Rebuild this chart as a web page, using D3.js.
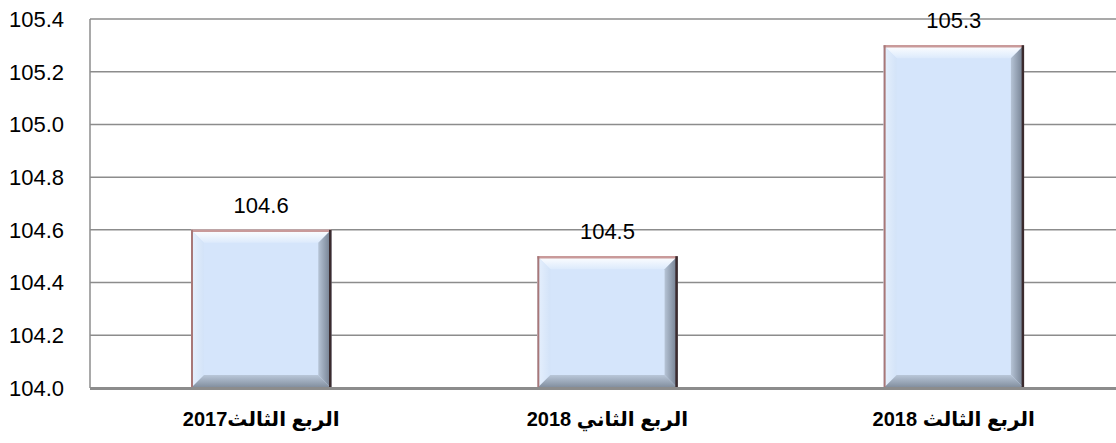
<!DOCTYPE html>
<html>
<head>
<meta charset="utf-8">
<script src="https://cdn.jsdelivr.net/npm/d3@7"></script>
<style>
  body { margin: 0; background: #fff; }
  svg { display: block; font-family: "Liberation Sans", Arial, "DejaVu Sans", sans-serif; }
</style>
</head>
<body>
<div id="barchart"></div>
<script>
const categories = ["الربع الثالث2017", "الربع الثاني 2018", "الربع الثالث 2018"];
const values = [104.6, 104.5, 105.3];
const yTicks = [104.0, 104.2, 104.4, 104.6, 104.8, 105.0, 105.2, 105.4];

const width = 1116, height = 443;
const margin = { top: 19, left: 90, bottom: 55 };

let svg = d3.select("#barchart")
    .append("svg")
    .attr("width", width)
    .attr("height", height);

// band range runs past the right edge like the original
let x = d3.scaleBand()
    .domain(categories)
    .range([margin.left - 2, margin.left - 2 + 3 * 346.3])
    .paddingInner(0.595)
    .paddingOuter(0.2975);

let y = d3.scaleLinear()
    .domain([104.0, 105.4])
    .range([height - margin.bottom, margin.top]);

// gridlines
svg.append("g")
    .selectAll("line")
    .data(yTicks.slice(1))
    .join("line")
    .attr("x1", margin.left)
    .attr("x2", width)
    .attr("y1", d => y(d))
    .attr("y2", d => y(d))
    .attr("stroke", "#8c8c8c")
    .attr("stroke-width", 1.5);

// y axis labels
svg.append("g")
    .selectAll("text")
    .data(yTicks)
    .join("text")
    .attr("x", 64)
    .attr("y", d => y(d))
    .attr("dy", "0.36em")
    .attr("text-anchor", "end")
    .style("font-size", "22px")
    .style("fill", "#000")
    .text(d => d.toFixed(1));

// left axis line
svg.append("line")
    .attr("x1", margin.left).attr("x2", margin.left)
    .attr("y1", y(105.4)).attr("y2", y(104.0))
    .attr("stroke", "#8c8c8c")
    .attr("stroke-width", 1.5);

// gradients for the bevelled bars
let defs = svg.append("defs");
function grad(id, x2, y2, stops) {
    let g = defs.append("linearGradient").attr("id", id)
        .attr("x1", 0).attr("y1", 0).attr("x2", x2).attr("y2", y2);
    stops.forEach(s => g.append("stop").attr("offset", s[0]).attr("stop-color", s[1]));
}
grad("topG", 0, 1, [[0, "#ffffff"], [1, "#dceafc"]]);
grad("leftG", 1, 0, [[0, "#e6f0fd"], [1, "#d3e3f8"]]);
grad("rightG", 1, 0, [[0, "#b6c4d6"], [1, "#6f7b8c"]]);
grad("botG", 0, 1, [[0, "#b9c7d9"], [1, "#7f8b9b"]]);

let bar = svg.selectAll(".bar")
    .data(categories.map((c, i) => ({ c: c, v: values[i] })))
    .join("g")
    .attr("class", "bar");

const bev = 13;
bar.each(function(d) {
    let g = d3.select(this);
    let x0 = x(d.c), x1 = x(d.c) + x.bandwidth();
    let y0 = y(d.v), y1 = y(104.0);
    g.append("rect")
        .attr("x", x0).attr("y", y0)
        .attr("width", x1 - x0).attr("height", y1 - y0)
        .attr("fill", "#d5e5fb");
    const poly = (pts, fill) => g.append("polygon")
        .attr("points", pts.map(p => p.join(",")).join(" "))
        .attr("fill", fill);
    poly([[x0, y0], [x1, y0], [x1 - bev, y0 + bev], [x0 + bev, y0 + bev]], "url(#topG)");
    poly([[x0, y0], [x0 + bev, y0 + bev], [x0 + bev, y1 - bev], [x0, y1]], "url(#leftG)");
    poly([[x1, y0], [x1, y1], [x1 - bev, y1 - bev], [x1 - bev, y0 + bev]], "url(#rightG)");
    poly([[x0, y1], [x0 + bev, y1 - bev], [x1 - bev, y1 - bev], [x1, y1]], "url(#botG)");
    // edges
    g.append("line").attr("x1", x0).attr("x2", x1).attr("y1", y0 + 1).attr("y2", y0 + 1)
        .attr("stroke", "#c99a9a").attr("stroke-width", 2.5);
    g.append("line").attr("x1", x0 + 1).attr("x2", x0 + 1).attr("y1", y0).attr("y2", y1)
        .attr("stroke", "#a87878").attr("stroke-width", 2);
    g.append("line").attr("x1", x1 - 1).attr("x2", x1 - 1).attr("y1", y0).attr("y2", y1)
        .attr("stroke", "#3b2b2e").attr("stroke-width", 2.5);
});

// value labels
bar.append("text")
    .text(d => d.v.toFixed(1))
    .attr("x", d => x(d.c) + x.bandwidth() / 2)
    .attr("y", d => y(d.v) - 25)
    .attr("dy", "0.36em")
    .attr("text-anchor", "middle")
    .style("font-size", "22px")
    .style("fill", "#000");

// bottom axis line
svg.append("line")
    .attr("x1", margin.left).attr("x2", width)
    .attr("y1", y(104.0) + 0.5).attr("y2", y(104.0) + 0.5)
    .attr("stroke", "#8c8c8c")
    .attr("stroke-width", 3);

// category labels
svg.append("g")
    .selectAll("text")
    .data(categories)
    .join("text")
    .attr("x", d => x(d) + x.bandwidth() / 2)
    .attr("y", 419)
    .attr("dy", "0.36em")
    .attr("text-anchor", "middle")
    .attr("direction", "rtl")
    .style("font-size", "20px")
    .style("font-weight", "bold")
    .style("fill", "#000")
    .text(d => d);
</script>
</body>
</html>
